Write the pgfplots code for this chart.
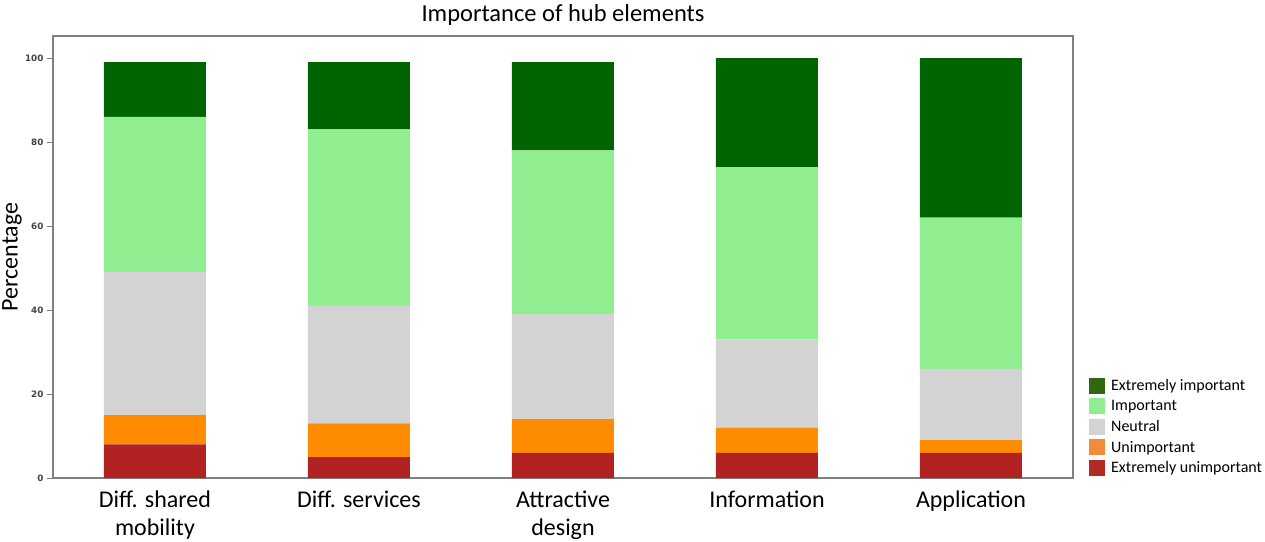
\documentclass[border=0pt]{standalone}
\usepackage{pgfplots}
\pgfplotsset{compat=1.18}
\usepackage{fontspec}
\setmainfont{Carlito}
\newfontfamily\tickfont{DejaVu Sans}

% bar fills
\definecolor{cEI}{RGB}{0,100,0}
\definecolor{cI}{RGB}{144,238,144}
\definecolor{cN}{RGB}{211,211,211}
\definecolor{cU}{RGB}{255,140,0}
\definecolor{cEU}{RGB}{178,34,34}
% legend swatches
\definecolor{lEI}{RGB}{48,104,16}
\definecolor{lI}{RGB}{144,238,144}
\definecolor{lN}{RGB}{211,211,211}
\definecolor{lU}{RGB}{242,140,56}
\definecolor{lEU}{RGB}{178,42,36}
\definecolor{spine}{RGB}{128,128,128}
\definecolor{ticktext}{RGB}{68,68,68}

\begin{document}
\begin{tikzpicture}
\path[use as bounding box] (0pt,0pt) rectangle (1265pt,541pt);
\begin{axis}[
  at={(53pt,63pt)}, anchor=south west,
  width=1020pt, height=442pt, scale only axis,
  xmin=-0.5, xmax=4.5, ymin=0, ymax=105.24,
  ybar stacked, bar width=0.5,
  axis line style={spine, line width=1.3pt},
  xtick={0,1,2,3,4},
  xticklabels={Diff. shared\\mobility, Diff. services, Attractive\\design, Information, Application},
  x tick style={draw=none},
  xticklabel style={font=\fontsize{24}{28}\selectfont, align=center, text=black, yshift=-3pt},
  ytick={0,20,40,60,80,100},
  y tick style={spine, line width=1pt},
  major tick length=6pt,
  tick align=outside, ytick pos=left,
  /pgf/number format/assume math mode=true,
  yticklabel style={font=\tickfont\bfseries\fontsize{8.8}{10}\selectfont, text=ticktext},
  title={Importance of hub elements},
  every axis title/.style={at={(axis description cs:0.5,1)}, anchor=center, yshift=21pt,
    font=\fontsize{24.5}{28}\selectfont},
  ylabel={Percentage},
  every axis y label/.style={at={([xshift=-41pt]axis description cs:0,0.5)}, anchor=center,
    rotate=90, font=\fontsize{24}{28}\selectfont},
  legend image code/.code={\fill[#1,draw=none] (0pt,-8pt) rectangle (16pt,8pt);},
  legend cell align=left,
  legend style={at={(axis description cs:1,0)}, anchor=south west, xshift=16pt, yshift=2pt,
    draw=none, fill=none, inner sep=0pt, row sep=4.5pt,
    font=\fontsize{16}{18}\selectfont,
    nodes={inner sep=0pt},
    /tikz/every odd column/.append style={column sep=6pt}},
]
% stacked from the bottom: extremely unimportant ... extremely important
\addplot[fill=cEU, draw=none, forget plot] coordinates {(0,8) (1,5) (2,6) (3,6) (4,6)};
\addplot[fill=cU,  draw=none, forget plot] coordinates {(0,7) (1,8) (2,8) (3,6) (4,3)};
\addplot[fill=cN,  draw=none, forget plot] coordinates {(0,34) (1,28) (2,25) (3,21) (4,17)};
\addplot[fill=cI,  draw=none, forget plot] coordinates {(0,37) (1,42) (2,39) (3,41) (4,36)};
\addplot[fill=cEI, draw=none, forget plot] coordinates {(0,13) (1,16) (2,21) (3,26) (4,38)};

\addlegendimage{fill=lEI}\addlegendentry{Extremely important}
\addlegendimage{fill=lI}\addlegendentry{Important}
\addlegendimage{fill=lN}\addlegendentry{Neutral}
\addlegendimage{fill=lU}\addlegendentry{Unimportant}
\addlegendimage{fill=lEU}\addlegendentry{Extremely unimportant}
\end{axis}
\end{tikzpicture}
\end{document}
